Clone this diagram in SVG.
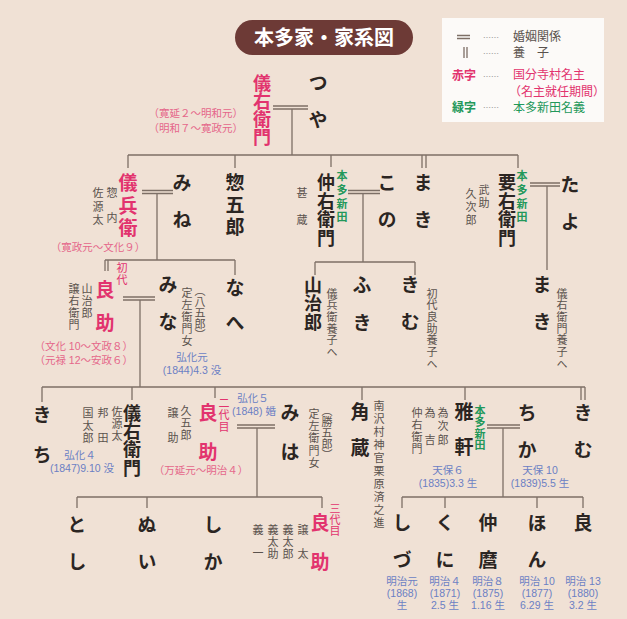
<svg xmlns="http://www.w3.org/2000/svg" width="627" height="619" viewBox="0 0 627 619">
<style>
text{font-family:"Noto Sans CJK JP","Noto Sans CJK SC",sans-serif}
.v{writing-mode:vertical-rl}
.n{font-size:19px;font-weight:700;fill:#2b2522}
.n18{font-size:18px;font-weight:700;fill:#2b2522}
.r{font-size:19px;font-weight:700;fill:#e2336e}
.r18{font-size:18px;font-weight:700;fill:#e2336e}
.s{font-size:11px;fill:#5a524d}
.sr{font-size:11px;fill:#e2336e}
.g{font-size:11px;fill:#23985a;font-weight:700}
.d{font-family:"Liberation Sans","Noto Sans CJK JP",sans-serif;font-size:10.5px;fill:#e5668a}
.b{font-family:"Liberation Sans","Noto Sans CJK JP",sans-serif;font-size:10.5px;fill:#6b7fc4}
.ln{stroke:#7d6f66;stroke-width:1.3;fill:none}
.lg{font-size:12px}
</style>
<rect width="627" height="619" fill="#f0e1d5"/>
<g id="title">
<rect x="235" y="20" width="178" height="35" rx="17.5" fill="#6d3a36"/>
<text x="324" y="45" text-anchor="middle" font-size="20" fill="#ffffff" font-weight="700">本多家・家系図</text>
</g>
<g id="legend">
<rect x="442" y="18" width="162" height="104" fill="#fcfaf8"/>
<path class="ln" d="M457 35.5H470M457 38.5H470M464 47V58M467 47V58"/>
<text x="491" y="41" text-anchor="middle" font-size="8" fill="#999">……</text>
<text x="491" y="57" text-anchor="middle" font-size="8" fill="#999">……</text>
<text x="491" y="80" text-anchor="middle" font-size="8" fill="#999">……</text>
<text x="491" y="111" text-anchor="middle" font-size="8" fill="#999">……</text>
<text x="513" y="41" class="lg" fill="#5a524d">婚姻関係</text>
<text x="513" y="57" class="lg" fill="#5a524d">養　子</text>
<text x="452" y="80" class="lg" fill="#e2336e" font-weight="700">赤字</text>
<text class="lg" fill="#e2336e"><tspan x="513" y="79">国分寺村名主</tspan><tspan x="509" y="96">（名主就任期間）</tspan></text>
<text x="452" y="112" class="lg" fill="#23985a" font-weight="700">緑字</text>
<text x="513" y="112" class="lg" fill="#23985a">本多新田名義</text>
</g>
<g id="connectors">
<path class="ln" d="M273 106H308M273 109H308M292 109V155M128 155H518M128 155V168M235 155V168M331 155V167M518 155V168M422 155V168M426 155V168"/>
<path class="ln" d="M142 190.5H173M142 193.5H173M157 193.5V260M105 260H235M105 260V271M108 260V271M235 260V275"/>
<path class="ln" d="M348 190.5H380M348 193.5H380M363 193.5V262M315 262H415M315 262V275M415 262V275"/>
<path class="ln" d="M530 183H560M530 186H560M547 186V270"/>
<path class="ln" d="M123 297H155M123 300H155M140 300V387M42 387H585M42 387V402M132 387V400M215 387V398M362 387V400M465 387V400M581 387V400M585 387V400"/>
<path class="ln" d="M237 425H275M237 428H275M257 428V497M77 497H322M77 497V508M147 497V508M322 497V508"/>
<path class="ln" d="M487 425H520M487 428H520M503 428V497M402 497H583M402 497V508M445 497V508M537 497V508M583 497V508"/>
</g>
<g id="giuemon1">
<text class="v r18" x="262" y="74">儀右衛門</text>
<text class="d" text-anchor="end"><tspan x="243" y="117">（寛延２～明和元）</tspan><tspan x="243" y="132">（明和７～寛政元）</tspan></text>
</g>
<g id="tsuya"><text class="v n" x="318" y="73.5" letter-spacing="18">つや</text></g>
<g id="gihee">
<text class="v r" x="128" y="173.5" letter-spacing="3.5">儀兵衛</text>
<text class="v s" x="112" y="187.5" letter-spacing="14">惣内</text>
<text class="v s" x="98" y="187.5" letter-spacing="2.5">佐源太</text>
<text class="d" x="98" y="251" text-anchor="middle">（寛政元～文化９）</text>
</g>
<g id="mine"><text class="v n" x="182" y="173.5" letter-spacing="18">みね</text></g>
<g id="sogoro"><text class="v n" x="235" y="173.5" letter-spacing="3">惣五郎</text></g>
<g id="nakauemon">
<text class="v n18" x="326" y="173" letter-spacing="0.7">仲右衛門</text>
<text class="v s" x="302" y="187.5" letter-spacing="16">甚蔵</text>
<text class="v g" x="342" y="170.5" letter-spacing="2.7">本多新田</text>
</g>
<g id="kono"><text class="v n" x="387" y="173.5" letter-spacing="18">この</text></g>
<g id="maki1"><text class="v n" x="423" y="173.5" letter-spacing="18">まき</text></g>
<g id="kanameuemon">
<text class="v n18" x="507" y="173" letter-spacing="0.7">要右衛門</text>
<text class="v s" x="484" y="184" letter-spacing="2">武助</text>
<text class="v s" x="471" y="188" letter-spacing="2">久次郎</text>
<text class="v g" x="522" y="170.5" letter-spacing="2.7">本多新田</text>
</g>
<g id="tayo"><text class="v n" x="570" y="175.5" letter-spacing="18">たよ</text></g>
<g id="ryosuke1">
<text class="v r" x="105" y="280.5" letter-spacing="14">良助</text>
<text class="v sr" x="122" y="262.5" letter-spacing="1">初代</text>
<text class="v s" x="87" y="283" letter-spacing="1">山治郎</text>
<text class="v s" x="74" y="283" letter-spacing="1">譲右衛門</text>
<text class="d" text-anchor="end"><tspan x="133" y="350">（文化 10～文政８）</tspan><tspan x="133" y="364">（元禄 12～安政６）</tspan></text>
</g>
<g id="mina">
<text class="v n" x="168" y="275.5" letter-spacing="18">みな</text>
<text class="v s" x="200" y="285" font-size="10.5">（八五郎）</text>
<text class="v s" x="187" y="287" letter-spacing="1">定左衛門女</text>
<text class="b" text-anchor="middle"><tspan x="192" y="361">弘化元</tspan><tspan x="192" y="374">(1844)4.3 没</tspan></text>
</g>
<g id="nahe"><text class="v n" x="235" y="278.5" letter-spacing="16">なへ</text></g>
<g id="sanjiro">
<text class="v n18" x="313" y="276" letter-spacing="0.5">山治郎</text>
<text class="v s" x="332" y="288" letter-spacing="0.7">儀兵衛養子へ</text>
</g>
<g id="fuki"><text class="v n" x="362" y="275.5" letter-spacing="19">ふき</text></g>
<g id="kimu1">
<text class="v n" x="410" y="275.5" letter-spacing="18">きむ</text>
<text class="v s" x="432" y="288" letter-spacing="0.7">初代良助養子へ</text>
</g>
<g id="maki2">
<text class="v n" x="542" y="275.5" letter-spacing="18">まき</text>
<text class="v s" x="562" y="288" letter-spacing="0.7">儀右衛門養子へ</text>
</g>
<g id="kichi"><text class="v n" x="42" y="405.5" letter-spacing="21">きち</text></g>
<g id="giuemon2">
<text class="v n18" x="132" y="404" letter-spacing="0.3">儀右衛門</text>
<text class="v s" x="117" y="406" letter-spacing="1">佐源太</text>
<text class="v s" x="103" y="407.5" letter-spacing="14">邦田</text>
<text class="v s" x="88" y="407.5" letter-spacing="1.5">国太郎</text>
<text class="b" text-anchor="middle"><tspan x="80" y="459">弘化４</tspan><tspan x="82" y="472">(1847)9.10 没</tspan></text>
</g>
<g id="ryosuke2">
<text class="v r" x="208" y="403.5" letter-spacing="20">良助</text>
<text class="v sr" x="224" y="397" letter-spacing="1">二代目</text>
<text class="v s" x="186" y="405" letter-spacing="1">久五郎</text>
<text class="v s" x="173" y="407.5" letter-spacing="14">譲助</text>
<text class="d" x="201" y="474" text-anchor="middle">（万延元～明治４）</text>
<text class="b" text-anchor="middle"><tspan x="253" y="402">弘化５</tspan><tspan x="254" y="414.5">(1848) 婚</tspan></text>
</g>
<g id="miha">
<text class="v n" x="290" y="403.5" letter-spacing="20">みは</text>
<text class="v s" x="314" y="408" letter-spacing="1.4">定左衛門女</text>
<text class="v s" x="327" y="405">（勝五郎）</text>
</g>
<g id="kakuzo">
<text class="v n" x="360" y="402.5" letter-spacing="17">角蔵</text>
<text class="v s" x="379" y="400" letter-spacing="2">南沢村神官栗原済之進</text>
</g>
<g id="gaken">
<text class="v n" x="464" y="402.5" letter-spacing="16">雅軒</text>
<text class="v g" x="480" y="405" letter-spacing="0.5">本多新田</text>
<text class="v s" x="443" y="407" letter-spacing="2.5">為次郎</text>
<text class="v s" x="430" y="407.5" letter-spacing="16">為吉</text>
<text class="v s" x="417" y="407" letter-spacing="1">仲右衛門</text>
<text class="b" text-anchor="middle"><tspan x="448" y="474">天保６</tspan><tspan x="448" y="487">(1835)3.3 生</tspan></text>
</g>
<g id="chika">
<text class="v n" x="527" y="403.5" letter-spacing="18">ちか</text>
<text class="b" text-anchor="middle"><tspan x="540" y="474">天保 10</tspan><tspan x="540" y="487">(1839)5.5 生</tspan></text>
</g>
<g id="kimu2"><text class="v n" x="583" y="403.5" letter-spacing="18">きむ</text></g>
<g id="toshi"><text class="v n" x="77" y="515.5" letter-spacing="18">とし</text></g>
<g id="nui"><text class="v n" x="147" y="515.5" letter-spacing="18">ぬい</text></g>
<g id="shika"><text class="v n" x="213" y="515.5" letter-spacing="18">しか</text></g>
<g id="ryosuke3">
<text class="v r" x="320" y="513.5" letter-spacing="20">良助</text>
<text class="v sr" x="335" y="503">三代目</text>
<text class="v s" x="303" y="524.5" letter-spacing="13">譲太</text>
<text class="v s" x="288" y="524.5" letter-spacing="1">義太郎</text>
<text class="v s" x="273" y="524.5" letter-spacing="1">義太助</text>
<text class="v s" x="258" y="524.5" letter-spacing="12">義一</text>
</g>
<g id="shizu">
<text class="v n" x="402" y="513.5" letter-spacing="18">しづ</text>
<text class="b" text-anchor="middle"><tspan x="402" y="585">明治元</tspan><tspan x="402" y="597">(1868)</tspan><tspan x="402" y="609">生</tspan></text>
</g>
<g id="kuni">
<text class="v n" x="445" y="513.5" letter-spacing="18">くに</text>
<text class="b" text-anchor="middle"><tspan x="445" y="585">明治４</tspan><tspan x="445" y="597">(1871)</tspan><tspan x="445" y="609">2.5 生</tspan></text>
</g>
<g id="nakamaro">
<text class="v n" x="488" y="513.5" letter-spacing="18">仲麿</text>
<text class="b" text-anchor="middle"><tspan x="488" y="585">明治８</tspan><tspan x="488" y="597">(1875)</tspan><tspan x="488" y="609">1.16 生</tspan></text>
</g>
<g id="hon">
<text class="v n" x="537" y="513.5" letter-spacing="18">ほん</text>
<text class="b" text-anchor="middle"><tspan x="537" y="585">明治 10</tspan><tspan x="537" y="597">(1877)</tspan><tspan x="537" y="609">6.29 生</tspan></text>
</g>
<g id="ryo">
<text class="v n" x="583" y="513.5">良</text>
<text class="b" text-anchor="middle"><tspan x="583" y="585">明治 13</tspan><tspan x="583" y="597">(1880)</tspan><tspan x="583" y="609">3.2 生</tspan></text>
</g>
</svg>
